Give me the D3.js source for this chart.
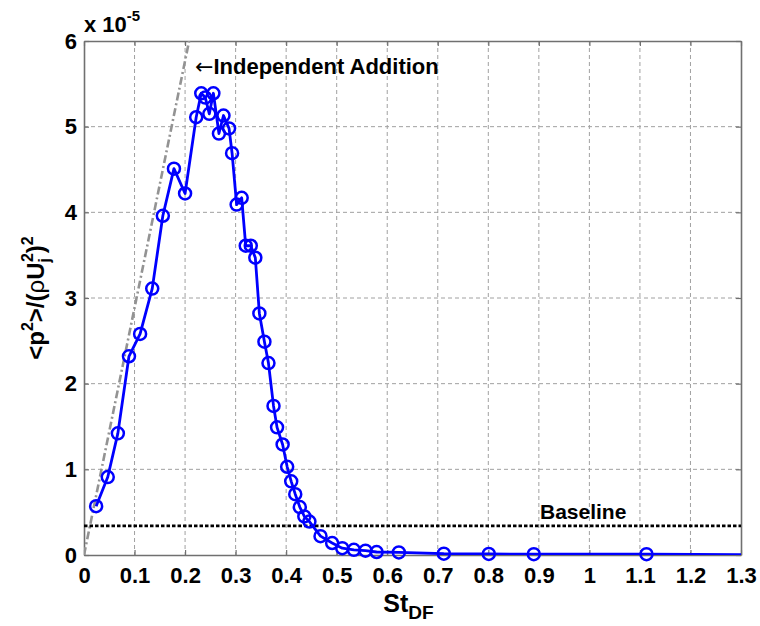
<!DOCTYPE html>
<html>
<head>
<meta charset="utf-8">
<script src="https://cdn.jsdelivr.net/npm/d3@7"></script>
<style>
    body { margin: 0; background: #fff; }
    svg { display: block; font-family: "Liberation Sans", Arial, Helvetica, sans-serif; }
</style>
</head>
<body>
<div id="grafico"></div>
<script>

// valores (pressao em unidades de 1e-5)
const stDF = [0.024, 0.047, 0.067, 0.089, 0.111, 0.135, 0.156, 0.178, 0.200, 0.222,
              0.232, 0.240, 0.248, 0.256, 0.267, 0.276, 0.287, 0.293, 0.302, 0.312,
              0.320, 0.330, 0.339, 0.347, 0.357, 0.365, 0.375, 0.382, 0.393, 0.402,
              0.410, 0.418, 0.427, 0.436, 0.446, 0.468, 0.491, 0.511, 0.534, 0.557,
              0.579, 0.623, 0.712, 0.801, 0.890, 1.113, 1.300];
const pressao = [0.57, 0.91, 1.42, 2.32, 2.58, 3.11, 3.96, 4.51, 4.22, 5.11,
                 5.39, 5.34, 5.15, 5.39, 4.92, 5.13, 4.98, 4.69, 4.09, 4.17,
                 3.61, 3.61, 3.47, 2.82, 2.49, 2.24, 1.74, 1.49, 1.29, 1.03,
                 0.86, 0.71, 0.56, 0.45, 0.39, 0.22, 0.14, 0.08, 0.06, 0.05,
                 0.035, 0.03, 0.015, 0.012, 0.01, 0.01, 0.005];

const adicaoIndepX = [0, 0.208];
const adicaoIndepY = [0, 6];

const valorBaseline = 0.34;

const ticksX = [0, 0.1, 0.2, 0.3, 0.4, 0.5, 0.6, 0.7, 0.8, 0.9, 1, 1.1, 1.2, 1.3];
const ticksY = [0, 1, 2, 3, 4, 5, 6];


const largura = 760, altura = 626;
const margem = {top: 41, right: 19, bottom: 71, left: 84};
const w = largura - margem.left - margem.right;
const h = altura - margem.top - margem.bottom;

const svg = d3.select("#grafico").append("svg")
    .attr("width", largura)
    .attr("height", altura);

const x = d3.scaleLinear().domain([0, 1.3]).range([0, w]);
const y = d3.scaleLinear().domain([0, 6]).range([h, 0]);

const g = svg.append("g").attr("transform", `translate(${margem.left},${margem.top})`);

g.append("clipPath").attr("id", "recorte")
    .append("rect").attr("width", w).attr("height", h);

// grade tracejada
g.append("g")
    .selectAll("line")
    .data(ticksX.slice(1, -1))
    .enter().append("line")
        .attr("x1", d => x(d)).attr("x2", d => x(d))
        .attr("y1", 0).attr("y2", h)
        .attr("stroke", "#a0a0a0")
        .attr("stroke-width", 1)
        .attr("stroke-dasharray", "4,3");

g.append("g")
    .selectAll("line")
    .data(ticksY.slice(1, -1))
    .enter().append("line")
        .attr("x1", 0).attr("x2", w)
        .attr("y1", d => y(d)).attr("y2", d => y(d))
        .attr("stroke", "#a0a0a0")
        .attr("stroke-width", 1)
        .attr("stroke-dasharray", "4,3");

// eixos (ticks para dentro, estilo matlab)
const formatoTick = d => String(+d.toFixed(1));

const eixoX = g.append("g").attr("transform", `translate(0,${h})`)
    .call(d3.axisBottom(x).tickValues(ticksX).tickFormat(formatoTick).tickSizeInner(-5).tickSizeOuter(0).tickPadding(12));
const eixoY = g.append("g")
    .call(d3.axisLeft(y).tickValues(ticksY).tickFormat(formatoTick).tickSizeInner(-5).tickSizeOuter(0).tickPadding(7));
const eixoTopo = g.append("g")
    .call(d3.axisTop(x).tickValues(ticksX).tickFormat("").tickSizeInner(-5).tickSizeOuter(0));
const eixoDireita = g.append("g").attr("transform", `translate(${w},0)`)
    .call(d3.axisRight(y).tickValues(ticksY).tickFormat("").tickSizeInner(-5).tickSizeOuter(0));

[eixoX, eixoY, eixoTopo, eixoDireita].forEach(eixo => {
    eixo.select(".domain").attr("stroke", "#707070").attr("stroke-width", 1.6);
    eixo.selectAll(".tick line").attr("stroke", "#707070").attr("stroke-width", 1.2);
    eixo.selectAll(".tick text")
        .attr("fill", "#000")
        .style("font-size", "22px")
        .style("font-weight", "bold")
        .style("font-family", "'Liberation Sans', Arial, sans-serif");
});

const dados = g.append("g").attr("clip-path", "url(#recorte)");

// linha de adicao independente
dados.append("path")
    .datum(adicaoIndepX.map((v, i) => [v, adicaoIndepY[i]]))
    .attr("fill", "none")
    .attr("stroke", "#939393")
    .attr("stroke-width", 2.6)
    .attr("stroke-dasharray", "8,3,2,3")
    .attr("d", d3.line().x(d => x(d[0])).y(d => y(d[1])));

// baseline
dados.append("line")
    .attr("x1", 0).attr("x2", w)
    .attr("y1", y(valorBaseline)).attr("y2", y(valorBaseline))
    .attr("stroke", "#000")
    .attr("stroke-width", 2.8)
    .attr("stroke-dasharray", "3.5,2");

const pontos = stDF.map((v, i) => [v, pressao[i]]);

dados.append("path")
    .datum(pontos)
    .attr("fill", "none")
    .attr("stroke", "#0000ff")
    .attr("stroke-width", 2.8)
    .attr("stroke-linejoin", "round")
    .attr("d", d3.line().x(d => x(d[0])).y(d => y(d[1])));

g.append("g")
    .selectAll("circle")
    .data(pontos.filter(d => d[0] < 1.3))
    .enter().append("circle")
        .attr("cx", d => x(d[0]))
        .attr("cy", d => y(d[1]))
        .attr("r", 6)
        .attr("fill", "none")
        .attr("stroke", "#0000ff")
        .attr("stroke-width", 2.5);

// textos
const anotacao = svg.append("text")
    .attr("x", 195).attr("y", 74)
    .style("font-size", "22px").style("font-weight", "bold");
anotacao.append("tspan")
    .style("font-family", "'DejaVu Sans', sans-serif")
    .style("font-weight", "normal")
    .text("\u2190");
anotacao.append("tspan").text("Independent Addition");

svg.append("text")
    .attr("x", 540).attr("y", 519)
    .style("font-size", "21px").style("font-weight", "bold")
    .text("Baseline");

const multiplicador = svg.append("text")
    .attr("x", 84).attr("y", 32)
    .style("font-size", "22px").style("font-weight", "bold");
multiplicador.append("tspan").text("x 10");
multiplicador.append("tspan").attr("dy", -11).style("font-size", "15px").text("-5");

const rotuloX = svg.append("text")
    .attr("x", margem.left + w / 2 - 4).attr("y", 612)
    .attr("text-anchor", "middle")
    .style("font-weight", "bold");
rotuloX.append("tspan").style("font-size", "25px").text("St");
rotuloX.append("tspan").attr("dy", 7).style("font-size", "19px").text("DF");

const rotuloY = svg.append("text")
    .attr("transform", `translate(44,${margem.top + h / 2}) rotate(-90)`)
    .attr("text-anchor", "middle")
    .style("font-weight", "bold")
    .style("font-size", "24px");
rotuloY.append("tspan").text("<p");
rotuloY.append("tspan").attr("dy", -11).style("font-size", "16px").text("2");
rotuloY.append("tspan").attr("dy", 11).text(">/(");
rotuloY.append("tspan").style("font-weight", "normal").text("\u03C1");
rotuloY.append("tspan").text("U");
rotuloY.append("tspan").attr("dy", 6).style("font-size", "16px").text("j");
rotuloY.append("tspan").attr("dx", -4).attr("dy", -17).style("font-size", "16px").text("2");
rotuloY.append("tspan").attr("dy", 11).text(")");
rotuloY.append("tspan").attr("dy", -11).style("font-size", "16px").text("2");

</script>
</body>
</html>
